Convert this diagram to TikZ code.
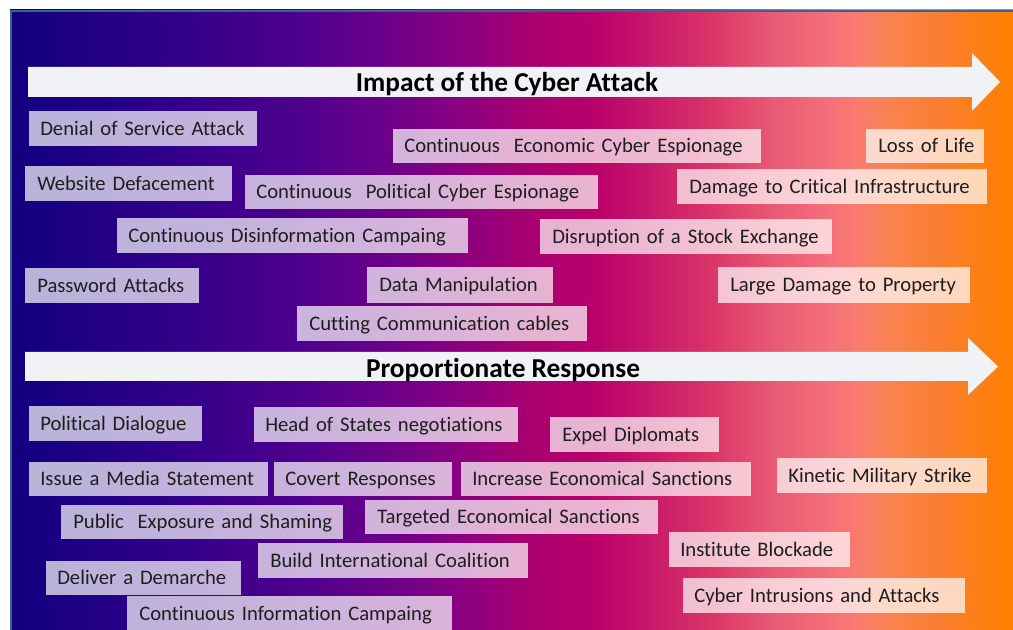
\documentclass[tikz,border=0pt]{standalone}
\usepackage{fontspec}
\setmainfont{Carlito}[Ligatures=NoCommon]

% colour stops of the background band, dark blue through magenta to orange
\definecolor{g0}{HTML}{10007F}
\definecolor{g1}{HTML}{2C0088}
\definecolor{g2}{HTML}{4E008E}
\definecolor{g3}{HTML}{700088}
\definecolor{g4}{HTML}{8A0080}
\definecolor{g5}{HTML}{A80070}
\definecolor{g6}{HTML}{B8006A}
\definecolor{g7}{HTML}{C8186A}
\definecolor{g8}{HTML}{DA3468}
\definecolor{g9}{HTML}{E85874}
\definecolor{g10}{HTML}{F5707A}
\definecolor{g11}{HTML}{FA7C6C}
\definecolor{g12}{HTML}{FA8250}
\definecolor{g13}{HTML}{FA7E30}
\definecolor{g14}{HTML}{FF8000}
\definecolor{panelborder}{HTML}{3E618F}
\definecolor{arrowfill}{HTML}{F1F2F6}
\definecolor{tagtext}{HTML}{1E1E1E}

\pgfdeclarehorizontalshading{panelshade}{100bp}{%
  color(0bp)=(g0); color(25bp)=(g0);
  color(31.98bp)=(g1); color(39.46bp)=(g2); color(44.44bp)=(g3);
  color(47.43bp)=(g4); color(50.92bp)=(g5); color(53.91bp)=(g6);
  color(56.90bp)=(g7); color(59.90bp)=(g8); color(62.89bp)=(g9);
  color(65.88bp)=(g10); color(67.37bp)=(g11); color(68.87bp)=(g12);
  color(71.36bp)=(g13); color(75bp)=(g14); color(100bp)=(g14)}

% \tagbox{name}{left}{top}{right}{bottom}{text start}{label}
\newcommand\tagbox[7]{%
  \node[tag,
        minimum width={(#4-#2)*0.75pt},
        minimum height={(#5-#3)*0.75pt},
        inner xsep={(#6-#2)*0.75pt},
        text width={(#4-#2-2*(#6-#2))*0.75pt}] (#1) at (#2,#3) {\mbox{#7}};}

\begin{document}
\begin{tikzpicture}[x=0.75pt,y=-0.75pt,
  tag/.style={fill=white, fill opacity=0.7, text opacity=1, draw=none,
    anchor=north west, align=left, inner ysep=0pt,
    text height=10.0pt, text depth=0pt, text=tagtext,
    font=\fontsize{15.5pt}{19pt}\selectfont},
  headline/.style={anchor=base, inner sep=0pt, text=black,
    font=\fontsize{20.5pt}{24pt}\selectfont\bfseries},
  bigarrow/.style={fill=arrowfill}]

\useasboundingbox (0,0) rectangle (1013,630);
\clip (0,0) rectangle (1013,630);
\fill[white] (0,0) rectangle (1013,630);

% background panel
\shade[shading=panelshade] (10,10) rectangle (1013,630);
\draw[panelborder, line width=1.5pt] (11,630) -- (11,11) -- (1013,11);

% upper scale arrow
\fill[bigarrow] (28,67) -- (972,67) -- (972,53) -- (1000,82) -- (972,111)
  -- (972,97) -- (28,97) -- cycle;
\node[headline] (impact) at (507,91.7) {Impact of the Cyber Attack};

% lower scale arrow
\fill[bigarrow] (25,352) -- (968,352) -- (968,338) -- (998,366.5) -- (968,395)
  -- (968,381) -- (25,381) -- cycle;
\node[headline] (response) at (503,377.3) {Proportionate Response};

% kinds of attack
\tagbox{dos}{29}{111}{257}{146}{40}{Denial of Service Attack}
\tagbox{deface}{25}{166}{232}{201}{37}{Website Defacement}
\tagbox{polesp}{245}{175}{598}{209}{256}{Continuous~ Political Cyber Espionage}
\tagbox{disinfo}{117}{218}{468}{253}{128}{Continuous Disinformation Campaing}
\tagbox{pwd}{25}{268}{199}{303}{37}{Password Attacks}
\tagbox{datamanip}{367}{267}{553}{303}{379}{Data Manipulation}
\tagbox{ecoesp}{393}{129}{761}{163}{404}{Continuous~ Economic Cyber Espionage}
\tagbox{cables}{297}{306}{587}{341}{309}{Cutting Communication cables}
\tagbox{life}{866}{129}{984}{163}{878}{Loss of Life}
\tagbox{infra}{677}{169}{987}{204}{689}{Damage to Critical Infrastructure}
\tagbox{stock}{540}{219}{832}{254}{552}{Disruption of a Stock Exchange}
\tagbox{property}{718}{267}{970}{303}{730}{Large Damage to Property}

% kinds of response
\tagbox{dialogue}{29}{406}{202}{441}{40}{Political Dialogue}
\tagbox{heads}{254}{407}{518}{442}{265}{Head of States negotiations}
\tagbox{media}{29}{462}{268}{496}{40}{Issue a Media Statement}
\tagbox{covert}{274}{462}{452}{496}{285}{Covert Responses}
\tagbox{incsanct}{461}{462}{751}{496}{472}{Increase Economical Sanctions}
\tagbox{shaming}{61}{505}{343}{539}{73}{Public~ Exposure and Shaming}
\tagbox{tgtsanct}{365}{500}{658}{534}{377}{Targeted Economical Sanctions}
\tagbox{coalition}{258}{543}{528}{578}{270}{Build International Coalition}
\tagbox{demarche}{46}{561}{241}{595}{57}{Deliver a Demarche}
\tagbox{infocamp}{127}{596}{452}{632}{139}{Continuous Information Campaing}
\tagbox{expel}{550}{417}{719}{452}{562}{Expel Diplomats}
\tagbox{kinetic}{777}{458}{987}{493}{788}{Kinetic Military Strike}
\tagbox{blockade}{669}{532}{850}{567}{680}{Institute Blockade}
\tagbox{cyberatk}{683}{578}{965}{613}{694}{Cyber Intrusions and Attacks}
\end{tikzpicture}
\end{document}
